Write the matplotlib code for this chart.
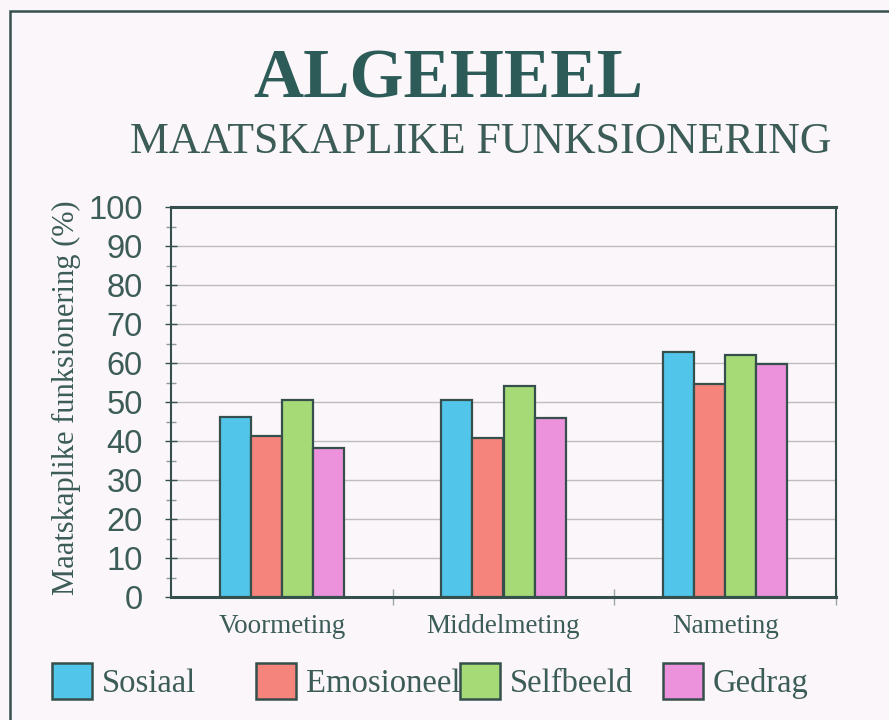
import matplotlib
matplotlib.use("Agg")
from matplotlib import pyplot as plt
from matplotlib.patches import Rectangle, Patch
import numpy as np

categories = ["Voormeting", "Middelmeting", "Nameting"]
series_names = ["Sosiaal", "Emosioneel", "Selfbeeld", "Gedrag"]
sosiaal = [46.2, 50.4, 62.9]
emosioneel = [41.2, 40.7, 54.6]
selfbeeld = [50.6, 54.2, 62.1]
gedrag = [38.2, 45.8, 59.7]
y_ticks = [0, 10, 20, 30, 40, 50, 60, 70, 80, 90, 100]

colors = ["#52c6ea", "#f5857c", "#a6da76", "#ec92dc"]
edge = "#35504c"
text_col = "#3b5c57"
bg = "#fbf6f9"
serif = "Liberation Serif"
sans = "Liberation Sans"

fig = plt.figure(figsize=(8.89, 7.2), dpi=100, facecolor=bg)
ax = fig.add_axes([171 / 889, 1 - 597 / 720, 665 / 889, 390 / 720])
ax.set_facecolor(bg)

x = np.arange(len(categories))
w = 0.14
values = [sosiaal, emosioneel, selfbeeld, gedrag]
for i, (name, vals) in enumerate(zip(series_names, values)):
    ax.bar(x + (i - 1.5) * w, vals, width=w, color=colors[i],
           edgecolor=edge, linewidth=1.6, label=name, zorder=3)

ax.set_xlim(-0.5, 2.5)
ax.set_ylim(0, 100)
ax.set_yticks(y_ticks)
ax.set_yticklabels([str(t) for t in y_ticks], fontfamily=sans, fontsize=23.5, color=text_col)
ax.set_yticks(np.arange(5, 100, 10), minor=True)
ax.tick_params(axis="y", which="major", direction="inout", length=9, width=1, colors=edge, pad=16)
ax.tick_params(axis="y", which="minor", direction="inout", length=7, width=1, colors="#8a9a98")
ax.tick_params(axis="y", labelcolor=text_col)

ax.set_xticks(x)
ax.set_xticklabels(categories, fontfamily=serif, fontsize=19.5, color=text_col)
ax.set_xticks([0.5, 1.5, 2.5], minor=True)
ax.tick_params(axis="x", which="major", length=0, pad=12)
ax.tick_params(axis="x", which="minor", direction="inout", length=12, width=1, colors="#9aa6a4")

ax.yaxis.grid(True, color="#bdbdbd", linewidth=1.0, zorder=0)
ax.set_axisbelow(True)

ax.spines["top"].set_linewidth(2.2)
ax.spines["top"].set_color(edge)
ax.spines["bottom"].set_linewidth(2.2)
ax.spines["bottom"].set_color(edge)
ax.spines["left"].set_linewidth(1.5)
ax.spines["left"].set_color(edge)
ax.spines["right"].set_linewidth(1.5)
ax.spines["right"].set_color(edge)

ax.set_ylabel("Maatskaplike funksionering (%)", fontfamily=serif, fontsize=22, color=text_col)
ax.yaxis.set_label_coords(-0.135, 0.51)

fig.text(448 / 889, 1 - 97 / 720, "ALGEHEEL", fontfamily=serif, fontweight="bold",
         fontsize=50, color="#2d5b58", ha="center", va="baseline")
fig.text(481 / 889, 1 - 153 / 720, "MAATSKAPLIKE FUNKSIONERING", fontfamily=serif,
         fontsize=31.5, color=text_col, ha="center", va="baseline")

# legend entries spaced evenly, one per slot
legend_x = [52, 256, 460, 663]
for c, name, lx in zip(colors, series_names, legend_x):
    h = Patch(facecolor=c, edgecolor=edge, linewidth=1.8)
    fig.legend([h], [name], loc="center left", bbox_to_anchor=(lx / 889, 1 - 681 / 720),
               frameon=False, handlelength=1.22, handleheight=1.3, handletextpad=0.3,
               prop={"family": serif, "size": 23.5}, labelcolor=text_col,
               borderaxespad=0, borderpad=0)

fig.patches.append(Rectangle((10 / 889, -0.05), 1.0, 1.05 - 11 / 720, transform=fig.transFigure,
                             fill=False, edgecolor=edge, linewidth=1.8))

fig.savefig("out.png", dpi=100, facecolor=bg)
